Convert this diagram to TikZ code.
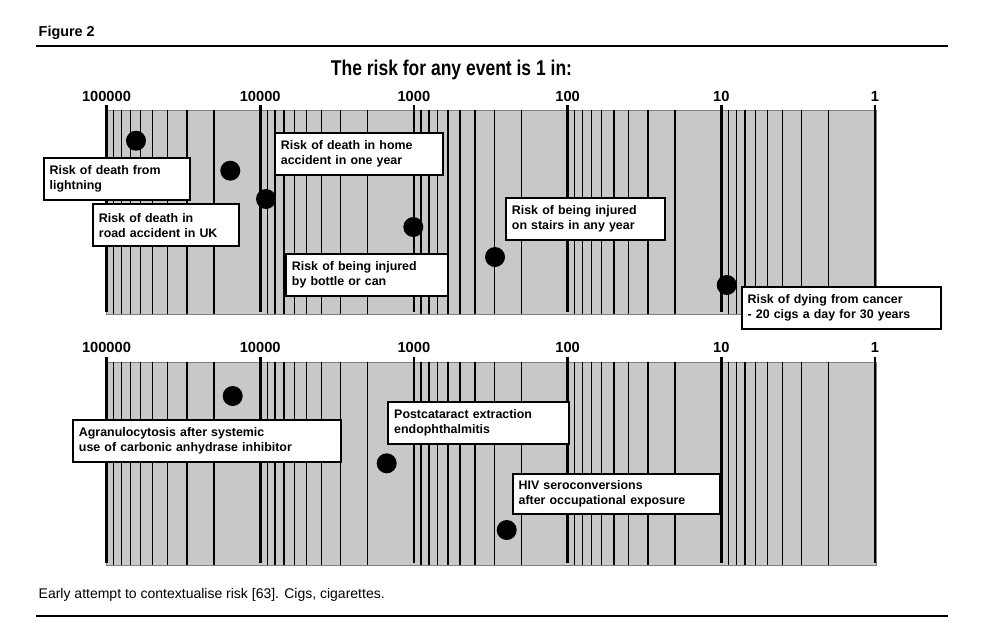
\documentclass[tikz,border=0pt]{standalone}
\usepackage{fontspec}
\setmainfont{Liberation Sans}
\newfontfamily\titlefont{Liberation Sans}[FakeStretch=0.82]
\usetikzlibrary{calc}
\definecolor{scalegray}{RGB}{200,200,200}
\tikzset{
	riskbox/.style={
			draw=black, line width=1.4pt, fill=white, anchor=north west,
			inner xsep=4.5pt, align=left, minimum height=31.5pt, text width=#1,
			font=\fontsize{9.3}{11.25}\selectfont\bfseries
		},
	riskdot/.style={circle, fill=black, inner sep=0pt, minimum size=15pt},
	minorline/.style={line width=1.05pt},
	majorline/.style={line width=2pt},
	ticklabel/.style={font=\fontsize{11}{13}\selectfont\bfseries}
}

\begin{document}
\begin{tikzpicture}[x=0.75pt, y=-0.75pt]
			\useasboundingbox (0,0) rectangle (1005,626);

			% Draw the heading and the rules
			\node[anchor=west, font=\fontsize{10.8}{13}\selectfont\bfseries] (figlabel) at (34,33) {Figure 2};
			\draw[line width=1.2pt] (36,46) -- (948,46);
			\draw[line width=1.2pt] (36,616) -- (948,616);
			\node[font=\titlefont\fontsize{16}{19}\selectfont\bfseries] (title) at (451.5,70) {The risk for any event is 1 in:};

			% Draw the two log scales
			\foreach \ytop/\ybot/\ylab in {110/314/96, 362/565/347} {
					\fill[scalegray] (106.5,\ytop) rectangle (876,\ybot);
					\draw[gray, line width=0.6pt] (106.5,\ytop) rectangle (876,\ybot);
					\foreach \d in {0,...,4} {
							\foreach \m in {2,...,9} {
									\pgfmathsetmacro\xx{106.5+(\d+1-log10(\m))*153.7}
									\draw[minorline] (\xx,\ytop) -- (\xx,\ybot);
								}
						}
					\foreach \d/\v in {0/100000, 1/10000, 2/1000, 3/100, 4/10, 5/1} {
							\pgfmathsetmacro\xx{106.5+\d*153.7}
							\draw[majorline] (\xx,\ytop-5) -- (\xx,\ybot-2.5);
							\node[ticklabel] (tick-\ylab-\v) at (\xx,\ylab) {\v};
						}
				}

			% Draw the events on the first scale
			\node[riskdot] (lightningdot) at (136,140.7) {};
			\node[riskdot] (roaddot) at (230.3,170.7) {};
			\node[riskdot] (homedot) at (266,199) {};
			\node[riskdot] (bottledot) at (413.3,227) {};
			\node[riskdot] (stairsdot) at (495,257) {};
			\node[riskdot] (cancerdot) at (726.7,285) {};

			\node[riskbox=101pt] (lightning) at (42.7,156.7) {Risk of death from\\lightning};
			\node[riskbox=100.7pt] (road) at (92,203.3) {Risk of death in\\road accident in UK};
			\node[riskbox=117.2pt] (home) at (274,131.7) {Risk of death in home\\accident in one year};
			\node[riskbox=112.7pt] (bottle) at (285,252.7) {Risk of being injured\\by bottle or can};
			\node[riskbox=110.5pt] (stairs) at (505,196.7) {Risk of being injured\\on stairs in any year};
			\node[riskbox=140.5pt] (cancer) at (740.7,286) {Risk of dying from cancer\\- 20 cigs a day for 30 years};

			% Draw the events on the second scale
			\node[riskdot] (agranulodot) at (232.7,396) {};
			\node[riskdot] (cataractdot) at (386.7,463.3) {};
			\node[riskdot] (hivdot) at (506.7,530) {};

			\node[riskbox=192pt] (agranulo) at (72,419.3) {Agranulocytosis after systemic\\use of carbonic anhydrase inhibitor};
			\node[riskbox=126.8pt] (cataract) at (387.3,400.7) {Postcataract extraction\\endophthalmitis};
			\node[riskbox=146.5pt, minimum height=30pt] (hiv) at (511.7,472.7) {HIV seroconversions\\after occupational exposure};

			% Caption
			\node[anchor=west, font=\fontsize{10.5}{12}\selectfont] (caption) at (34,595) {Early attempt to contextualise risk [63]. Cigs, cigarettes.};

		\end{tikzpicture}
\end{document}
